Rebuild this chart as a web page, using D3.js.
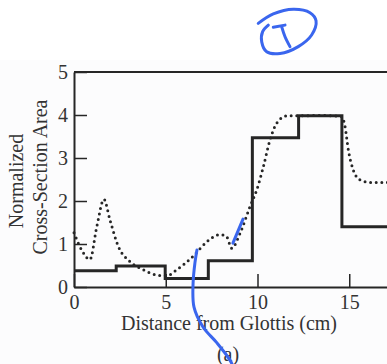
<!DOCTYPE html>
<html>
<head>
<meta charset="utf-8">
<script src="https://cdn.jsdelivr.net/npm/d3@7"></script>
<style>
  body { margin: 0; background: #fff; }
  svg { display: block; font-family: "Liberation Serif", "DejaVu Serif", serif; }
</style>
</head>
<body>
<svg id="chart"></svg>
<script>
// step approximation (solid)
const stepEdges = [0, 2.3, 4.97, 7.32, 9.72, 12.24, 14.6, 17.8];
const stepAreas = [0.38, 0.49, 0.2, 0.61, 3.47, 3.98, 1.4];

// measured area function (dotted)
const areaX = [0, 0.42, 0.87, 1.24, 1.63, 1.96, 2.42, 3.05, 3.78, 4.5, 5.05, 5.6, 6.5, 7.23, 7.96, 8.32, 8.59,
  9.05, 9.59, 9.96, 10.32, 10.68, 11.05, 11.59, 12.14, 13.4, 14.6, 14.77, 14.95, 15.22, 15.59, 16.13, 17.8];
const areaY = [1.26, 0.86, 0.64, 1.4, 2.04, 1.56, 0.94, 0.59, 0.4, 0.28, 0.26, 0.4, 0.72, 1.05, 1.22, 1.17, 0.9,
  1.25, 1.87, 2.26, 2.8, 3.42, 3.81, 3.98, 3.98, 3.99, 3.96, 3.73, 3.19, 2.72, 2.49, 2.43, 2.43];

const xTicks = [0, 5, 10, 15];
const yTicks = [0, 1, 2, 3, 4, 5];

// handwritten pen marks, in data units
const penCircle = [[10.04, 6.13], [10.86, 6.35], [11.95, 6.46], [12.86, 6.38], [13.19, 6.19], [12.95, 5.86],
  [12.22, 5.59], [11.23, 5.43], [10.5, 5.47], [10.23, 5.7], [10.28, 5.94], [10.59, 6.09]];
const penBar = [[10.86, 6.04], [11.5, 6.09]];
const penStem = [[11.32, 6.05], [11.5, 5.82], [11.77, 5.59]];
const penLong = [[6.7, 0.86], [6.59, 0.56], [6.49, 0.09], [6.54, -0.47], [7.03, -0.93], [7.79, -1.3], [8.5, -1.7], [8.72, -1.9]];
const penShort = [[8.66, 1.02], [9.21, 1.58]];

const width = 387, height = 364;
const margin = {left: 74, top: 72};
const pxPerCm = 18.35;
const plotH = 215;

const svg = d3.select('#chart').attr('width', width).attr('height', height);

svg.append('rect').attr('x', 0).attr('y', 60).attr('width', width).attr('height', height - 60)
  .attr('fill', '#fcfcfd');

const x = d3.scaleLinear().domain([0, 17.8]).range([margin.left, margin.left + 17.8 * pxPerCm]);
const y = d3.scaleLinear().domain([0, 5]).range([margin.top + plotH, margin.top]);

const ink = '#262626';

// axes (ticks point inwards)
const gx = svg.append('g')
  .attr('transform', 'translate(0,' + y(0) + ')')
  .call(d3.axisBottom(x).tickValues(xTicks).tickFormat(d3.format('d'))
    .tickSizeInner(-13).tickSizeOuter(0).tickPadding(8));
const gy = svg.append('g')
  .attr('transform', 'translate(' + x(0) + ',0)')
  .call(d3.axisLeft(y).tickValues(yTicks).tickFormat(d3.format('d'))
    .tickSizeInner(-13).tickSizeOuter(0).tickPadding(6));

[gx, gy].forEach(g => {
  g.select('.domain').attr('stroke', ink).attr('stroke-width', 2);
  g.selectAll('.tick line').attr('stroke', ink).attr('stroke-width', 1.5);
  g.selectAll('.tick text').attr('fill', '#333').attr('font-size', 20)
    .attr('font-family', '"Liberation Serif", serif');
});

// top frame line
svg.append('line')
  .attr('x1', x(0)).attr('x2', width + 5)
  .attr('y1', y(5)).attr('y2', y(5))
  .attr('stroke', ink).attr('stroke-width', 2);

// dotted measured area
const smooth = d3.line().x(d => x(d[0])).y(d => y(d[1])).curve(d3.curveMonotoneX);
svg.append('path')
  .datum(areaX.map((v, i) => [v, areaY[i]]))
  .attr('fill', 'none')
  .attr('stroke', ink)
  .attr('stroke-width', 3)
  .attr('stroke-linecap', 'round')
  .attr('stroke-dasharray', '0 5.6')
  .attr('d', smooth);

// step approximation
const step = d3.line().x(d => x(d[0])).y(d => y(d[1])).curve(d3.curveStepAfter);
svg.append('path')
  .datum(stepEdges.map((e, i) => [e, stepAreas[Math.min(i, stepAreas.length - 1)]]))
  .attr('fill', 'none')
  .attr('stroke', ink)
  .attr('stroke-width', 3)
  .attr('d', step);

// labels
svg.append('text')
  .attr('x', 229).attr('y', 330)
  .attr('text-anchor', 'middle')
  .attr('font-size', 20).attr('fill', '#333')
  .text('Distance from Glottis (cm)');

svg.append('text')
  .attr('transform', 'translate(23,181) rotate(-90)')
  .attr('text-anchor', 'middle')
  .attr('font-size', 20).attr('fill', '#333')
  .text('Normalized');
svg.append('text')
  .attr('transform', 'translate(47,177) rotate(-90)')
  .attr('text-anchor', 'middle')
  .attr('font-size', 20).attr('fill', '#333')
  .text('Cross-Section Area');

svg.append('text')
  .attr('x', 228).attr('y', 361)
  .attr('text-anchor', 'middle')
  .attr('font-size', 20).attr('fill', '#333')
  .text('(a)');

// blue pen marks
const pen = d3.line().x(d => x(d[0])).y(d => y(d[1])).curve(d3.curveCatmullRom);
[penCircle, penBar, penStem, penLong, penShort].forEach(stroke => {
  svg.append('path')
    .datum(stroke)
    .attr('fill', 'none')
    .attr('stroke', '#3a66ee')
    .attr('stroke-width', 3)
    .attr('stroke-linecap', 'round')
    .attr('d', pen);
});
</script>
</body>
</html>
